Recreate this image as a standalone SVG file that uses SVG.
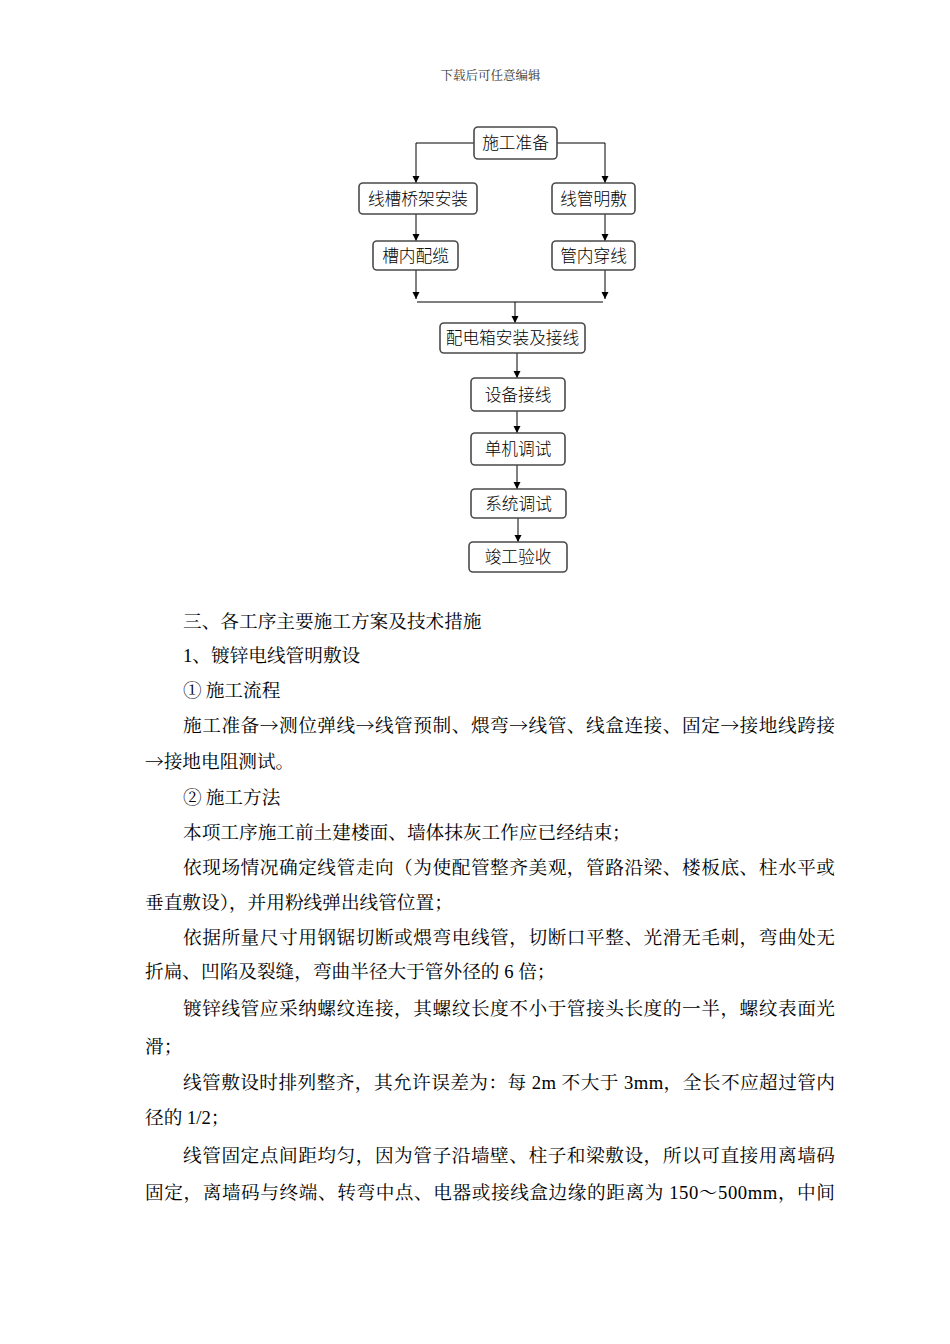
<svg xmlns="http://www.w3.org/2000/svg" width="950" height="1344" viewBox="0 0 950 1344">
<style>
.box{fill:#fff;stroke:#4a4a4a;stroke-width:1.6}
.bt{font-family:"Noto Sans CJK SC","Noto Sans",sans-serif;font-size:16.7px;font-weight:300;fill:#000;text-anchor:middle}
.ln{fill:none;stroke:#000;stroke-width:1}
.body{font-family:"Liberation Serif","Noto Serif CJK SC","Noto Sans CJK SC",serif;font-size:18.67px;fill:#000}
.cj{font-family:"Noto Serif CJK SC","Noto Sans CJK SC",serif}
.hdr{font-family:"Liberation Serif","Noto Serif CJK SC","Noto Sans CJK SC",serif;font-size:12.5px;fill:#333;text-anchor:middle}
</style>
<defs>
<marker id="arr" markerUnits="userSpaceOnUse" markerWidth="8" markerHeight="8" refX="7" refY="3.5" orient="auto">
<path d="M0,0 L7,3.5 L0,7 z" fill="#000"/>
</marker>
</defs>
<rect width="950" height="1344" fill="#fff"/>
<text class="hdr" x="490.5" y="79.5">下载后可任意编辑</text>

<g id="connectors">
<polyline class="ln" points="474,143 416,143 416,183" marker-end="url(#arr)"/>
<polyline class="ln" points="557,143 605,143 605,183" marker-end="url(#arr)"/>
<line class="ln" x1="416" y1="214" x2="416" y2="241" marker-end="url(#arr)"/>
<line class="ln" x1="605" y1="214" x2="605" y2="241" marker-end="url(#arr)"/>
<line class="ln" x1="416" y1="270" x2="416" y2="299" marker-end="url(#arr)"/>
<line class="ln" x1="605" y1="270" x2="605" y2="299" marker-end="url(#arr)"/>
<line class="ln" x1="417" y1="302" x2="603" y2="302"/>
<line class="ln" x1="515" y1="302" x2="515" y2="323" marker-end="url(#arr)"/>
<line class="ln" x1="517" y1="353" x2="517" y2="378" marker-end="url(#arr)"/>
<line class="ln" x1="517" y1="411" x2="517" y2="433" marker-end="url(#arr)"/>
<line class="ln" x1="517" y1="465" x2="517" y2="489" marker-end="url(#arr)"/>
<line class="ln" x1="518" y1="518" x2="518" y2="542" marker-end="url(#arr)"/>
</g>

<g id="n1"><rect class="box" x="474" y="127" width="83" height="32" rx="4"/><text class="bt" x="515.5" y="149">施工准备</text></g>
<g id="n2"><rect class="box" x="359" y="183" width="118" height="31" rx="4"/><text class="bt" x="418" y="204.5">线槽桥架安装</text></g>
<g id="n3"><rect class="box" x="552" y="183" width="83" height="31" rx="4"/><text class="bt" x="593.5" y="204.5">线管明敷</text></g>
<g id="n4"><rect class="box" x="373" y="241" width="85" height="29" rx="4"/><text class="bt" x="415.5" y="261.5">槽内配缆</text></g>
<g id="n5"><rect class="box" x="552" y="241" width="83" height="29" rx="4"/><text class="bt" x="593.5" y="261.5">管内穿线</text></g>
<g id="n6"><rect class="box" x="440" y="323" width="145" height="30" rx="4"/><text class="bt" x="512.5" y="344">配电箱安装及接线</text></g>
<g id="n7"><rect class="box" x="471" y="378" width="94" height="33" rx="4"/><text class="bt" x="518" y="400.5">设备接线</text></g>
<g id="n8"><rect class="box" x="471" y="433" width="94" height="32" rx="4"/><text class="bt" x="518" y="455">单机调试</text></g>
<g id="n9"><rect class="box" x="471" y="489" width="95" height="29" rx="4"/><text class="bt" x="518.5" y="509.5">系统调试</text></g>
<g id="n10"><rect class="box" x="469" y="542" width="98" height="30" rx="4"/><text class="bt" x="518" y="563">竣工验收</text></g>

<g id="body">
<text class="body" x="183" y="628">三、各工序主要施工方案及技术措施</text>
<text class="body" x="183" y="662">1、镀锌电线管明敷设</text>
<text class="body" x="183" y="697">①<tspan dx="4">施工流程</tspan></text>
<text class="body" x="183" y="732" textLength="652" lengthAdjust="spacing">施工准备<tspan class="cj">→</tspan>测位弹线<tspan class="cj">→</tspan>线管预制、煨弯<tspan class="cj">→</tspan>线管、线盒连接、固定<tspan class="cj">→</tspan>接地线跨接</text>
<text class="body" x="145" y="768"><tspan class="cj">→</tspan>接地电阻测试。</text>
<text class="body" x="183" y="804">②<tspan dx="4">施工方法</tspan></text>
<text class="body" x="183" y="839">本项工序施工前土建楼面、墙体抹灰工作应已经结束；</text>
<text class="body" x="183" y="874" textLength="652" lengthAdjust="spacing">依现场情况确定线管走向（为使配管整齐美观，管路沿梁、楼板底、柱水平或</text>
<text class="body" x="145" y="909">垂直敷设），并用粉线弹出线管位置；</text>
<text class="body" x="183" y="944" textLength="652" lengthAdjust="spacing">依据所量尺寸用钢锯切断或煨弯电线管，切断口平整、光滑无毛刺，弯曲处无</text>
<text class="body" x="145" y="978">折扁、凹陷及裂缝，弯曲半径大于管外径的 6 倍；</text>
<text class="body" x="183" y="1015" textLength="652" lengthAdjust="spacing">镀锌线管应采纳螺纹连接，其螺纹长度不小于管接头长度的一半，螺纹表面光</text>
<text class="body" x="145" y="1053">滑；</text>
<text class="body" x="183" y="1089" textLength="652" lengthAdjust="spacing">线管敷设时排列整齐，其允许误差为：每 2m 不大于 3mm，全长不应超过管内</text>
<text class="body" x="145" y="1124">径的 1/2；</text>
<text class="body" x="183" y="1162" textLength="652" lengthAdjust="spacing">线管固定点间距均匀，因为管子沿墙壁、柱子和梁敷设，所以可直接用离墙码</text>
<text class="body" x="145" y="1199" textLength="690" lengthAdjust="spacing">固定，离墙码与终端、转弯中点、电器或接线盒边缘的距离为 150～500mm，中间</text>
</g>
</svg>
